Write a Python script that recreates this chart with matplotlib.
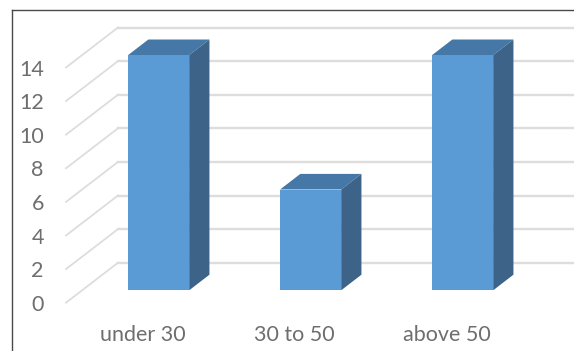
import matplotlib
matplotlib.use("Agg")
import matplotlib.pyplot as plt
from matplotlib.lines import Line2D
from matplotlib.patches import Polygon

categories = ["under 30", "30 to 50", "above 50"]
values = [14, 6, 14]
y_ticks = [0, 2, 4, 6, 8, 10, 12, 14]

W, H = 574, 351

# oblique projection: how far a point moves going from the front to the back wall
DEPTH_X = 0.342
DEPTH_Y = 2.38
BAR_WIDTH = 0.402
BAR_FRONT = 0.31
BAR_BACK = 0.70

FRONT = "#5B9BD5"
TOP = "#4578A6"
SIDE = "#3D6488"
GRID = "#DDDDDD"
TEXT = "#6E6E6E"


def project(x, v, d):
    return x + d * DEPTH_X, v + d * DEPTH_Y


plt.rcParams["font.family"] = ["Lato", "DejaVu Sans"]

fig = plt.figure(figsize=(W / 100, H / 100), dpi=100)
fig.patch.set_facecolor("white")

# axes start at the front left corner of the floor
left, base = 66, 302.7
ax = fig.add_axes([left / W, (H - base) / H, (W - left) / W, base / H])
ax.set_xlim((left - 142.5) / 152, (W - 142.5) / 152)
ax.set_ylim(0, base / 16.8)
ax.patch.set_alpha(0)
for s in ax.spines.values():
    s.set_visible(False)

# gridlines: slanted part on the side wall, flat part on the back wall
x0 = ax.get_xlim()[0]
x1 = ax.get_xlim()[1]
for t in y_ticks:
    bx, by = project(x0, t, 1)
    ax.plot([x0, bx], [t, by], color=GRID, lw=1.3, zorder=1, clip_on=False)
    ax.plot([bx, x1], [by, by], color=GRID, lw=1.7, zorder=1, clip_on=False)

# 3d bars
for i, v in enumerate(values):
    xl = i - BAR_WIDTH / 2
    xr = i + BAR_WIDTH / 2
    fl, fb = project(xl, 0, BAR_FRONT)
    fr, ft = project(xr, v, BAR_FRONT)
    bl, bt = project(xl, v, BAR_BACK)
    br, bb = project(xr, 0, BAR_BACK)
    ax.bar(fl, ft - fb, width=fr - fl, bottom=fb, align="edge", color=FRONT,
           edgecolor="none", zorder=4)
    ax.add_patch(Polygon([(fl, ft), (fr, ft), (br, bt), (bl, bt)], closed=True,
                         facecolor=TOP, edgecolor="none", zorder=3))
    ax.add_patch(Polygon([(fr, fb), (fr, ft), (br, bt), (br, bb)], closed=True,
                         facecolor=SIDE, edgecolor="none", zorder=3))

ax.set_yticks(y_ticks)
ax.set_yticklabels([str(t) for t in y_ticks])
ax.set_xticks(range(len(categories)))
ax.set_xticklabels(categories)
ax.tick_params(axis="y", length=0, pad=16, labelsize=15.5, labelcolor=TEXT)
ax.tick_params(axis="x", length=0, pad=16, labelsize=15.5, labelcolor=TEXT)

# chart frame, open on the right and bottom
fig.add_artist(Line2D([12 / W, 12 / W], [0, 1 - 10 / H], color="#4A4A4A", lw=1))
fig.add_artist(Line2D([12 / W, 1], [1 - 10 / H, 1 - 10 / H], color="#4A4A4A", lw=1))

fig.savefig("out.png", dpi=100)
